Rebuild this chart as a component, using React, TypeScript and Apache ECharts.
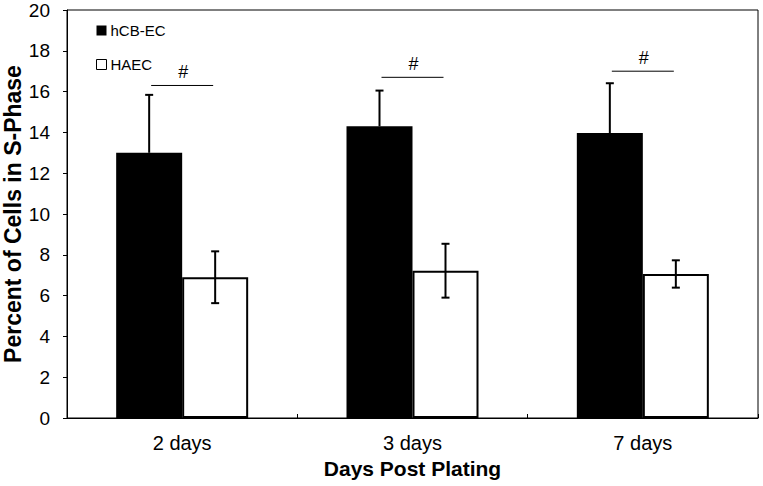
import React, { useEffect, useRef } from "react";
import * as echarts from "echarts";

const categories = ["2 days", "3 days", "7 days"];
const hcbMeans = [13.0, 14.3, 13.97];
const hcbErr = [2.84, 1.75, 2.44];
const haecMeans = [6.9, 7.22, 7.06];
const haecErr = [1.27, 1.32, 0.67];
const sigLevels = [16.3, 16.7, 17.0];
const sigMarks = ["#", "#", "#"];

const FONT = "Arial, 'Liberation Sans', sans-serif";
const BAR_W = 66;

export default function App() {
  const ref = useRef<HTMLDivElement>(null);
  useEffect(() => {
    if (!ref.current) return;
    const chart = echarts.init(ref.current, null, { renderer: "svg" });

    const errSeries = (name: string, means: number[], errs: number[], offset: number, upperOnly: boolean) => ({
      type: "custom",
      name: name + "-err",
      z: 5,
      silent: true,
      data: means.map((m, i) => [i, m, errs[i]]),
      encode: { x: 0, y: 1 },
      renderItem: (params: any, api: any) => {
        const ci = api.value(0);
        const v = api.value(1);
        const e = api.value(2);
        const top = api.coord([ci, v + e]);
        const mid = api.coord([ci, v]);
        const bot = api.coord([ci, v - e]);
        const x = mid[0] + offset;
        const yLow = upperOnly ? mid[1] : bot[1];
        const cap = 4;
        const st = { stroke: "#000", lineWidth: 2 };
        const children: any[] = [
          { type: "line", shape: { x1: x, y1: top[1], x2: x, y2: yLow }, style: st },
          { type: "line", shape: { x1: x - cap, y1: top[1], x2: x + cap, y2: top[1] }, style: st },
        ];
        if (!upperOnly) {
          children.push({ type: "line", shape: { x1: x - cap, y1: bot[1], x2: x + cap, y2: bot[1] }, style: st });
        }
        return { type: "group", children };
      },
    });

    chart.setOption({
      animation: false,
      backgroundColor: "#fff",
      grid: {
        left: 67,
        right: 5,
        top: 10,
        bottom: 68,
        show: true,
        borderColor: "#000",
        borderWidth: 1,
        containLabel: false,
        outerBoundsMode: "none",
      },
      legend: {
        orient: "vertical",
        left: 96,
        top: 23,
        padding: 0,
        itemWidth: 10,
        itemHeight: 10,
        itemGap: 19,
        icon: "rect",
        textStyle: { fontFamily: FONT, fontSize: 15, color: "#000", padding: [0, 0, 0, -1] },
        data: [
          { name: "hCB-EC", itemStyle: { color: "#000", borderWidth: 0 } },
          { name: "HAEC", itemStyle: { color: "#fff", borderColor: "#000", borderWidth: 1 } },
        ],
      },
      xAxis: {
        type: "category",
        data: categories,
        name: "Days Post Plating",
        nameLocation: "middle",
        nameGap: 40,
        nameMoveOverlap: false,
        nameTextStyle: { fontFamily: FONT, fontSize: 21, fontWeight: "bold", color: "#000" },
        axisLine: { lineStyle: { color: "#000", width: 1 } },
        axisTick: { show: true, inside: true, length: 4, lineStyle: { color: "#000" } },
        axisLabel: { fontFamily: FONT, fontSize: 20, color: "#000", margin: 15 },
      },
      yAxis: {
        type: "value",
        min: 0,
        max: 20,
        interval: 2,
        name: "Percent of Cells in S-Phase",
        nameLocation: "middle",
        nameGap: 42,
        nameMoveOverlap: false,
        nameTextStyle: { fontFamily: FONT, fontSize: 23, lineHeight: 24, fontWeight: "bold", color: "#000" },
        axisLine: { show: true, lineStyle: { color: "#000", width: 1 } },
        axisTick: { show: true, length: 4, lineStyle: { color: "#000" } },
        axisLabel: { fontFamily: FONT, fontSize: 19, lineHeight: 19, color: "#000", margin: 17 },
        splitLine: { show: false },
      },
      series: [
        {
          type: "bar",
          name: "hCB-EC",
          data: hcbMeans,
          barWidth: BAR_W,
          barGap: "0%",
          itemStyle: { color: "#000" },
        },
        {
          type: "bar",
          name: "HAEC",
          data: haecMeans,
          barWidth: BAR_W,
          barGap: "0%",
          itemStyle: { color: "#fff", borderColor: "#000", borderWidth: 2 },
        },
        errSeries("hCB-EC", hcbMeans, hcbErr, -BAR_W / 2, true),
        errSeries("HAEC", haecMeans, haecErr, BAR_W / 2, false),
        {
          type: "custom",
          name: "sig",
          z: 6,
          silent: true,
          data: sigLevels.map((v, i) => [i, v]),
          encode: { x: 0, y: 1 },
          renderItem: (params: any, api: any) => {
            const ci = api.value(0);
            const v = api.value(1);
            const p = api.coord([ci, v]);
            const half = 31;
            return {
              type: "group",
              children: [
                { type: "line", shape: { x1: p[0] - half, y1: p[1], x2: p[0] + half, y2: p[1] }, style: { stroke: "#000", lineWidth: 1 } },
                {
                  type: "text",
                  x: p[0] + 1,
                  y: p[1] - 4,
                  style: { text: sigMarks[params.dataIndex], fill: "#000", font: `18px ${FONT}`, align: "center", verticalAlign: "bottom" },
                },
              ],
            };
          },
        },
      ],
    });
    return () => chart.dispose();
  }, []);
  return <div ref={ref} style={{ position: "absolute", left: 0, top: 0, width: 763, height: 486 }} />;
}
